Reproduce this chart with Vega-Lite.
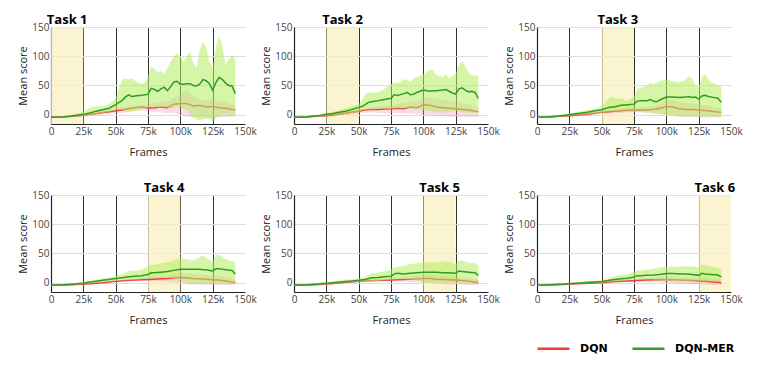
{
"$schema":"https://vega.github.io/schema/vega-lite/v6.json",
"padding":{"left":17,"top":14,"right":5,"bottom":5},
"data":{"values":[
{"t":1,"label":"Task 1","x0":0,"x1":25,"xm":12.5},
{"t":2,"label":"Task 2","x0":25,"x1":50,"xm":37.5},
{"t":3,"label":"Task 3","x0":50,"x1":75,"xm":62.5},
{"t":4,"label":"Task 4","x0":75,"x1":100,"xm":87.5},
{"t":5,"label":"Task 5","x0":100,"x1":125,"xm":112.5},
{"t":6,"label":"Task 6","x0":125,"x1":150,"xm":137.5},
{"t":1,"s":"DQN-MER","x":0,"m":-4.5,"lo":-5,"hi":-4},{"t":1,"s":"DQN-MER","x":5,"m":-4.2,"lo":-5,"hi":-3.5},{"t":1,"s":"DQN-MER","x":10,"m":-3.5,"lo":-4.5,"hi":-2.5},{"t":1,"s":"DQN-MER","x":15,"m":-2.5,"lo":-4,"hi":-1},{"t":1,"s":"DQN-MER","x":20,"m":-1,"lo":-3,"hi":2},{"t":1,"s":"DQN-MER","x":25,"m":0.5,"lo":-2,"hi":5},{"t":1,"s":"DQN-MER","x":30,"m":3,"lo":-1,"hi":12},{"t":1,"s":"DQN-MER","x":35,"m":6,"lo":1,"hi":15},{"t":1,"s":"DQN-MER","x":40,"m":8.5,"lo":3,"hi":14},{"t":1,"s":"DQN-MER","x":45,"m":11,"lo":5,"hi":18},{"t":1,"s":"DQN-MER","x":50,"m":17,"lo":8,"hi":28},{"t":1,"s":"DQN-MER","x":52.5,"m":21,"lo":10,"hi":45},{"t":1,"s":"DQN-MER","x":55,"m":24,"lo":9,"hi":60},{"t":1,"s":"DQN-MER","x":57.5,"m":30,"lo":6,"hi":62},{"t":1,"s":"DQN-MER","x":60,"m":34,"lo":5,"hi":60},{"t":1,"s":"DQN-MER","x":62.5,"m":31,"lo":5,"hi":62},{"t":1,"s":"DQN-MER","x":65,"m":32,"lo":6,"hi":58},{"t":1,"s":"DQN-MER","x":70,"m":33,"lo":9,"hi":52},{"t":1,"s":"DQN-MER","x":72.5,"m":34,"lo":10,"hi":55},{"t":1,"s":"DQN-MER","x":75,"m":35,"lo":12,"hi":65},{"t":1,"s":"DQN-MER","x":77.5,"m":45,"lo":14,"hi":82},{"t":1,"s":"DQN-MER","x":80,"m":43,"lo":14,"hi":78},{"t":1,"s":"DQN-MER","x":82.5,"m":40,"lo":12,"hi":72},{"t":1,"s":"DQN-MER","x":85,"m":44,"lo":12,"hi":75},{"t":1,"s":"DQN-MER","x":87.5,"m":47,"lo":13,"hi":70},{"t":1,"s":"DQN-MER","x":90,"m":41,"lo":12,"hi":80},{"t":1,"s":"DQN-MER","x":92.5,"m":48,"lo":11,"hi":90},{"t":1,"s":"DQN-MER","x":95,"m":56,"lo":12,"hi":100},{"t":1,"s":"DQN-MER","x":97.5,"m":57,"lo":13,"hi":105},{"t":1,"s":"DQN-MER","x":100,"m":52,"lo":14,"hi":100},{"t":1,"s":"DQN-MER","x":102.5,"m":52,"lo":10,"hi":90},{"t":1,"s":"DQN-MER","x":105,"m":53,"lo":8,"hi":100},{"t":1,"s":"DQN-MER","x":107.5,"m":53,"lo":2,"hi":108},{"t":1,"s":"DQN-MER","x":110,"m":50,"lo":-5,"hi":88},{"t":1,"s":"DQN-MER","x":112.5,"m":49,"lo":-8,"hi":80},{"t":1,"s":"DQN-MER","x":115,"m":52,"lo":-10,"hi":110},{"t":1,"s":"DQN-MER","x":117.5,"m":60,"lo":-8,"hi":125},{"t":1,"s":"DQN-MER","x":120,"m":58,"lo":-6,"hi":115},{"t":1,"s":"DQN-MER","x":122.5,"m":53,"lo":-8,"hi":90},{"t":1,"s":"DQN-MER","x":125,"m":42,"lo":-12,"hi":80},{"t":1,"s":"DQN-MER","x":127.5,"m":55,"lo":-6,"hi":115},{"t":1,"s":"DQN-MER","x":130,"m":64,"lo":-2,"hi":135},{"t":1,"s":"DQN-MER","x":132.5,"m":60,"lo":0,"hi":118},{"t":1,"s":"DQN-MER","x":135,"m":54,"lo":2,"hi":85},{"t":1,"s":"DQN-MER","x":137.5,"m":50,"lo":0,"hi":95},{"t":1,"s":"DQN-MER","x":140,"m":49,"lo":-2,"hi":102},{"t":1,"s":"DQN-MER","x":142.5,"m":36,"lo":-2,"hi":95},
{"t":2,"s":"DQN-MER","x":0,"m":-4.5,"lo":-5,"hi":-4},{"t":2,"s":"DQN-MER","x":5,"m":-4.2,"lo":-5,"hi":-3.5},{"t":2,"s":"DQN-MER","x":10,"m":-3.5,"lo":-4.5,"hi":-2.5},{"t":2,"s":"DQN-MER","x":15,"m":-2.5,"lo":-4,"hi":-1},{"t":2,"s":"DQN-MER","x":20,"m":-1.5,"lo":-3.5,"hi":0.5},{"t":2,"s":"DQN-MER","x":25,"m":0.5,"lo":-2,"hi":3},{"t":2,"s":"DQN-MER","x":30,"m":2,"lo":-1,"hi":5},{"t":2,"s":"DQN-MER","x":35,"m":4,"lo":0,"hi":8},{"t":2,"s":"DQN-MER","x":40,"m":6,"lo":1,"hi":11},{"t":2,"s":"DQN-MER","x":45,"m":9,"lo":3,"hi":14},{"t":2,"s":"DQN-MER","x":50,"m":12.5,"lo":5,"hi":18},{"t":2,"s":"DQN-MER","x":52.5,"m":14,"lo":7,"hi":25},{"t":2,"s":"DQN-MER","x":55,"m":17,"lo":8,"hi":35},{"t":2,"s":"DQN-MER","x":57.5,"m":21,"lo":9,"hi":38},{"t":2,"s":"DQN-MER","x":60,"m":22,"lo":9,"hi":38},{"t":2,"s":"DQN-MER","x":65,"m":24,"lo":10,"hi":38},{"t":2,"s":"DQN-MER","x":70,"m":26,"lo":10,"hi":44},{"t":2,"s":"DQN-MER","x":75,"m":28,"lo":10,"hi":52},{"t":2,"s":"DQN-MER","x":77.5,"m":34,"lo":11,"hi":55},{"t":2,"s":"DQN-MER","x":80,"m":33,"lo":11,"hi":54},{"t":2,"s":"DQN-MER","x":85,"m":36,"lo":11,"hi":60},{"t":2,"s":"DQN-MER","x":87.5,"m":38,"lo":11,"hi":60},{"t":2,"s":"DQN-MER","x":90,"m":34,"lo":10,"hi":56},{"t":2,"s":"DQN-MER","x":92.5,"m":35,"lo":9,"hi":62},{"t":2,"s":"DQN-MER","x":95,"m":38,"lo":9,"hi":64},{"t":2,"s":"DQN-MER","x":100,"m":42,"lo":8,"hi":69},{"t":2,"s":"DQN-MER","x":105,"m":40,"lo":6,"hi":77},{"t":2,"s":"DQN-MER","x":107.5,"m":41,"lo":5,"hi":76},{"t":2,"s":"DQN-MER","x":110,"m":41,"lo":4,"hi":68},{"t":2,"s":"DQN-MER","x":115,"m":42,"lo":4,"hi":64},{"t":2,"s":"DQN-MER","x":117.5,"m":43,"lo":4,"hi":70},{"t":2,"s":"DQN-MER","x":120,"m":40,"lo":4,"hi":62},{"t":2,"s":"DQN-MER","x":122.5,"m":37,"lo":5,"hi":66},{"t":2,"s":"DQN-MER","x":125,"m":35,"lo":7,"hi":70},{"t":2,"s":"DQN-MER","x":127.5,"m":44,"lo":5,"hi":85},{"t":2,"s":"DQN-MER","x":130,"m":46,"lo":4,"hi":92},{"t":2,"s":"DQN-MER","x":132.5,"m":42,"lo":3,"hi":82},{"t":2,"s":"DQN-MER","x":135,"m":39,"lo":4,"hi":72},{"t":2,"s":"DQN-MER","x":137.5,"m":40,"lo":3,"hi":66},{"t":2,"s":"DQN-MER","x":140,"m":38,"lo":3,"hi":68},{"t":2,"s":"DQN-MER","x":142.5,"m":28,"lo":3,"hi":66},
{"t":3,"s":"DQN-MER","x":0,"m":-4.5,"lo":-5,"hi":-4},{"t":3,"s":"DQN-MER","x":10,"m":-3.5,"lo":-4.5,"hi":-2.5},{"t":3,"s":"DQN-MER","x":20,"m":-1.5,"lo":-3.5,"hi":0.5},{"t":3,"s":"DQN-MER","x":25,"m":0,"lo":-2,"hi":2},{"t":3,"s":"DQN-MER","x":30,"m":1.5,"lo":-1,"hi":4},{"t":3,"s":"DQN-MER","x":35,"m":3,"lo":0,"hi":6},{"t":3,"s":"DQN-MER","x":40,"m":4.5,"lo":1,"hi":8},{"t":3,"s":"DQN-MER","x":45,"m":6.5,"lo":2,"hi":10},{"t":3,"s":"DQN-MER","x":50,"m":8.5,"lo":3,"hi":14},{"t":3,"s":"DQN-MER","x":52.5,"m":10,"lo":4,"hi":20},{"t":3,"s":"DQN-MER","x":55,"m":12,"lo":5,"hi":27},{"t":3,"s":"DQN-MER","x":57.5,"m":13,"lo":5,"hi":30},{"t":3,"s":"DQN-MER","x":60,"m":13,"lo":5,"hi":28},{"t":3,"s":"DQN-MER","x":65,"m":16,"lo":5,"hi":27},{"t":3,"s":"DQN-MER","x":70,"m":17,"lo":5,"hi":24},{"t":3,"s":"DQN-MER","x":75,"m":18,"lo":5,"hi":30},{"t":3,"s":"DQN-MER","x":77.5,"m":23,"lo":5,"hi":44},{"t":3,"s":"DQN-MER","x":80,"m":24,"lo":5,"hi":46},{"t":3,"s":"DQN-MER","x":85,"m":24,"lo":4,"hi":50},{"t":3,"s":"DQN-MER","x":87.5,"m":26,"lo":4,"hi":55},{"t":3,"s":"DQN-MER","x":90,"m":23,"lo":3,"hi":52},{"t":3,"s":"DQN-MER","x":92.5,"m":22,"lo":2,"hi":54},{"t":3,"s":"DQN-MER","x":95,"m":25,"lo":1,"hi":58},{"t":3,"s":"DQN-MER","x":100,"m":30,"lo":-1,"hi":60},{"t":3,"s":"DQN-MER","x":105,"m":30,"lo":-2,"hi":57},{"t":3,"s":"DQN-MER","x":110,"m":29.5,"lo":-3,"hi":55},{"t":3,"s":"DQN-MER","x":115,"m":30,"lo":-3,"hi":60},{"t":3,"s":"DQN-MER","x":117.5,"m":31,"lo":-3,"hi":66},{"t":3,"s":"DQN-MER","x":120,"m":29.5,"lo":-3,"hi":62},{"t":3,"s":"DQN-MER","x":122.5,"m":30,"lo":-3,"hi":50},{"t":3,"s":"DQN-MER","x":125,"m":26.5,"lo":-3,"hi":46},{"t":3,"s":"DQN-MER","x":127.5,"m":32,"lo":-3,"hi":64},{"t":3,"s":"DQN-MER","x":130,"m":33,"lo":-3,"hi":69},{"t":3,"s":"DQN-MER","x":132.5,"m":31,"lo":-3,"hi":60},{"t":3,"s":"DQN-MER","x":135,"m":30,"lo":-3,"hi":55},{"t":3,"s":"DQN-MER","x":140,"m":28,"lo":-3,"hi":50},{"t":3,"s":"DQN-MER","x":142.5,"m":21,"lo":-3,"hi":48},
{"t":4,"s":"DQN-MER","x":0,"m":-4.5,"lo":-5,"hi":-4},{"t":4,"s":"DQN-MER","x":10,"m":-3.5,"lo":-4.5,"hi":-2.5},{"t":4,"s":"DQN-MER","x":20,"m":-2,"lo":-3.5,"hi":0},{"t":4,"s":"DQN-MER","x":25,"m":-1,"lo":-3,"hi":1},{"t":4,"s":"DQN-MER","x":30,"m":1,"lo":-1,"hi":3},{"t":4,"s":"DQN-MER","x":35,"m":2.5,"lo":0,"hi":5},{"t":4,"s":"DQN-MER","x":40,"m":4,"lo":1,"hi":7},{"t":4,"s":"DQN-MER","x":45,"m":5.5,"lo":2,"hi":9},{"t":4,"s":"DQN-MER","x":50,"m":7,"lo":3,"hi":11},{"t":4,"s":"DQN-MER","x":55,"m":8.5,"lo":4,"hi":15},{"t":4,"s":"DQN-MER","x":60,"m":10,"lo":4,"hi":20},{"t":4,"s":"DQN-MER","x":65,"m":11,"lo":5,"hi":21},{"t":4,"s":"DQN-MER","x":70,"m":12,"lo":6,"hi":22},{"t":4,"s":"DQN-MER","x":75,"m":14,"lo":7,"hi":28},{"t":4,"s":"DQN-MER","x":77.5,"m":17,"lo":8,"hi":30},{"t":4,"s":"DQN-MER","x":80,"m":17,"lo":8,"hi":31},{"t":4,"s":"DQN-MER","x":85,"m":18,"lo":8,"hi":33},{"t":4,"s":"DQN-MER","x":90,"m":19,"lo":8,"hi":35},{"t":4,"s":"DQN-MER","x":95,"m":21,"lo":7,"hi":38},{"t":4,"s":"DQN-MER","x":100,"m":23,"lo":5,"hi":42},{"t":4,"s":"DQN-MER","x":105,"m":23,"lo":0,"hi":40},{"t":4,"s":"DQN-MER","x":110,"m":23,"lo":-2,"hi":38},{"t":4,"s":"DQN-MER","x":115,"m":23,"lo":-2,"hi":44},{"t":4,"s":"DQN-MER","x":117.5,"m":22,"lo":-2,"hi":46},{"t":4,"s":"DQN-MER","x":120,"m":22,"lo":-2,"hi":42},{"t":4,"s":"DQN-MER","x":125,"m":20,"lo":-2,"hi":36},{"t":4,"s":"DQN-MER","x":127.5,"m":24,"lo":-2,"hi":46},{"t":4,"s":"DQN-MER","x":130,"m":24,"lo":-2,"hi":48},{"t":4,"s":"DQN-MER","x":135,"m":22,"lo":-2,"hi":40},{"t":4,"s":"DQN-MER","x":140,"m":21,"lo":-2,"hi":36},{"t":4,"s":"DQN-MER","x":142.5,"m":15,"lo":-2,"hi":36},
{"t":5,"s":"DQN-MER","x":0,"m":-4.5,"lo":-5,"hi":-4},{"t":5,"s":"DQN-MER","x":10,"m":-3.5,"lo":-4.5,"hi":-2.5},{"t":5,"s":"DQN-MER","x":20,"m":-2,"lo":-3.5,"hi":-0.5},{"t":5,"s":"DQN-MER","x":25,"m":-1,"lo":-3,"hi":0.5},{"t":5,"s":"DQN-MER","x":30,"m":0,"lo":-2,"hi":2},{"t":5,"s":"DQN-MER","x":35,"m":1,"lo":-1,"hi":3.5},{"t":5,"s":"DQN-MER","x":40,"m":2,"lo":0,"hi":5},{"t":5,"s":"DQN-MER","x":45,"m":3,"lo":1,"hi":6},{"t":5,"s":"DQN-MER","x":50,"m":4,"lo":1.5,"hi":7},{"t":5,"s":"DQN-MER","x":55,"m":5.5,"lo":2,"hi":10},{"t":5,"s":"DQN-MER","x":60,"m":8.5,"lo":3,"hi":16},{"t":5,"s":"DQN-MER","x":65,"m":9,"lo":3,"hi":17},{"t":5,"s":"DQN-MER","x":70,"m":10,"lo":4,"hi":20},{"t":5,"s":"DQN-MER","x":75,"m":11,"lo":5,"hi":23},{"t":5,"s":"DQN-MER","x":77.5,"m":15,"lo":6,"hi":26},{"t":5,"s":"DQN-MER","x":80,"m":16,"lo":6,"hi":27},{"t":5,"s":"DQN-MER","x":85,"m":15,"lo":6,"hi":29},{"t":5,"s":"DQN-MER","x":90,"m":16,"lo":5,"hi":32},{"t":5,"s":"DQN-MER","x":95,"m":17,"lo":4,"hi":33},{"t":5,"s":"DQN-MER","x":100,"m":18,"lo":1,"hi":35},{"t":5,"s":"DQN-MER","x":105,"m":18,"lo":0,"hi":35},{"t":5,"s":"DQN-MER","x":110,"m":18,"lo":0,"hi":34},{"t":5,"s":"DQN-MER","x":115,"m":17,"lo":0,"hi":36},{"t":5,"s":"DQN-MER","x":120,"m":17,"lo":0,"hi":36},{"t":5,"s":"DQN-MER","x":125,"m":16,"lo":0,"hi":32},{"t":5,"s":"DQN-MER","x":127.5,"m":20,"lo":0,"hi":38},{"t":5,"s":"DQN-MER","x":130,"m":19,"lo":0,"hi":38},{"t":5,"s":"DQN-MER","x":135,"m":18,"lo":0,"hi":34},{"t":5,"s":"DQN-MER","x":140,"m":17,"lo":0,"hi":33},{"t":5,"s":"DQN-MER","x":142.5,"m":12.5,"lo":0,"hi":30},
{"t":6,"s":"DQN-MER","x":0,"m":-4.5,"lo":-5,"hi":-4},{"t":6,"s":"DQN-MER","x":10,"m":-3.5,"lo":-4.5,"hi":-2.5},{"t":6,"s":"DQN-MER","x":20,"m":-2.5,"lo":-4,"hi":-1},{"t":6,"s":"DQN-MER","x":30,"m":-1,"lo":-2.5,"hi":0.5},{"t":6,"s":"DQN-MER","x":40,"m":0.5,"lo":-1,"hi":2},{"t":6,"s":"DQN-MER","x":50,"m":2,"lo":0,"hi":4},{"t":6,"s":"DQN-MER","x":55,"m":3.5,"lo":1,"hi":7},{"t":6,"s":"DQN-MER","x":60,"m":5.5,"lo":2,"hi":11},{"t":6,"s":"DQN-MER","x":65,"m":6.5,"lo":3,"hi":13},{"t":6,"s":"DQN-MER","x":70,"m":7.5,"lo":4,"hi":15},{"t":6,"s":"DQN-MER","x":75,"m":9.5,"lo":5,"hi":19},{"t":6,"s":"DQN-MER","x":77.5,"m":12,"lo":6,"hi":21},{"t":6,"s":"DQN-MER","x":80,"m":12,"lo":6,"hi":21},{"t":6,"s":"DQN-MER","x":85,"m":12.5,"lo":6,"hi":22},{"t":6,"s":"DQN-MER","x":90,"m":13,"lo":5,"hi":24},{"t":6,"s":"DQN-MER","x":95,"m":14,"lo":4,"hi":26},{"t":6,"s":"DQN-MER","x":100,"m":15.5,"lo":2,"hi":27},{"t":6,"s":"DQN-MER","x":105,"m":15.5,"lo":2,"hi":28},{"t":6,"s":"DQN-MER","x":110,"m":15,"lo":2,"hi":27},{"t":6,"s":"DQN-MER","x":115,"m":15,"lo":2,"hi":28},{"t":6,"s":"DQN-MER","x":120,"m":14,"lo":2,"hi":28},{"t":6,"s":"DQN-MER","x":125,"m":12.5,"lo":2,"hi":26},{"t":6,"s":"DQN-MER","x":127.5,"m":16,"lo":2,"hi":31},{"t":6,"s":"DQN-MER","x":130,"m":15,"lo":2,"hi":30},{"t":6,"s":"DQN-MER","x":135,"m":14,"lo":2,"hi":27},{"t":6,"s":"DQN-MER","x":140,"m":13,"lo":2,"hi":25},{"t":6,"s":"DQN-MER","x":142.5,"m":10,"lo":2,"hi":24},
{"t":1,"s":"DQN","x":0,"m":-4.5,"lo":-5,"hi":-4},{"t":1,"s":"DQN","x":5,"m":-4.3,"lo":-5,"hi":-3.5},{"t":1,"s":"DQN","x":10,"m":-3.8,"lo":-5,"hi":-3},{"t":1,"s":"DQN","x":15,"m":-3,"lo":-4.5,"hi":-2},{"t":1,"s":"DQN","x":20,"m":-2,"lo":-4,"hi":0},{"t":1,"s":"DQN","x":25,"m":-1,"lo":-3,"hi":1},{"t":1,"s":"DQN","x":30,"m":0.5,"lo":-2,"hi":3},{"t":1,"s":"DQN","x":35,"m":2,"lo":-1,"hi":5},{"t":1,"s":"DQN","x":40,"m":3.5,"lo":0,"hi":7},{"t":1,"s":"DQN","x":45,"m":5,"lo":1,"hi":9},{"t":1,"s":"DQN","x":50,"m":6.5,"lo":2,"hi":11},{"t":1,"s":"DQN","x":55,"m":8,"lo":3,"hi":13},{"t":1,"s":"DQN","x":60,"m":10,"lo":5,"hi":15},{"t":1,"s":"DQN","x":65,"m":12,"lo":7,"hi":16},{"t":1,"s":"DQN","x":70,"m":13,"lo":7,"hi":17},{"t":1,"s":"DQN","x":75,"m":11.5,"lo":6,"hi":18},{"t":1,"s":"DQN","x":80,"m":12,"lo":5,"hi":20},{"t":1,"s":"DQN","x":85,"m":13,"lo":4,"hi":22},{"t":1,"s":"DQN","x":90,"m":12,"lo":3,"hi":22},{"t":1,"s":"DQN","x":95,"m":18,"lo":3,"hi":28},{"t":1,"s":"DQN","x":100,"m":19,"lo":0,"hi":35},{"t":1,"s":"DQN","x":105,"m":19,"lo":-3,"hi":42},{"t":1,"s":"DQN","x":110,"m":15,"lo":-5,"hi":32},{"t":1,"s":"DQN","x":115,"m":16,"lo":-4,"hi":26},{"t":1,"s":"DQN","x":120,"m":13,"lo":-5,"hi":24},{"t":1,"s":"DQN","x":125,"m":14,"lo":-6,"hi":28},{"t":1,"s":"DQN","x":130,"m":12,"lo":-4,"hi":22},{"t":1,"s":"DQN","x":135,"m":11,"lo":-4,"hi":23},{"t":1,"s":"DQN","x":140,"m":9,"lo":-3,"hi":18},{"t":1,"s":"DQN","x":142.5,"m":8.5,"lo":-3,"hi":16},
{"t":2,"s":"DQN","x":0,"m":-4.5,"lo":-5,"hi":-4},{"t":2,"s":"DQN","x":10,"m":-4,"lo":-5,"hi":-3},{"t":2,"s":"DQN","x":20,"m":-2.5,"lo":-4,"hi":-1},{"t":2,"s":"DQN","x":25,"m":-2,"lo":-3.5,"hi":0},{"t":2,"s":"DQN","x":30,"m":-0.5,"lo":-2,"hi":1.5},{"t":2,"s":"DQN","x":35,"m":1,"lo":-1,"hi":3},{"t":2,"s":"DQN","x":40,"m":2.5,"lo":0,"hi":5},{"t":2,"s":"DQN","x":45,"m":4.5,"lo":1,"hi":8},{"t":2,"s":"DQN","x":50,"m":6,"lo":2,"hi":10},{"t":2,"s":"DQN","x":55,"m":8,"lo":3,"hi":12},{"t":2,"s":"DQN","x":60,"m":9,"lo":4,"hi":13},{"t":2,"s":"DQN","x":65,"m":9,"lo":3,"hi":14},{"t":2,"s":"DQN","x":70,"m":9.5,"lo":3,"hi":15},{"t":2,"s":"DQN","x":75,"m":10,"lo":3,"hi":16},{"t":2,"s":"DQN","x":80,"m":11,"lo":3,"hi":18},{"t":2,"s":"DQN","x":85,"m":10,"lo":2,"hi":20},{"t":2,"s":"DQN","x":90,"m":13,"lo":2,"hi":22},{"t":2,"s":"DQN","x":95,"m":12,"lo":1,"hi":24},{"t":2,"s":"DQN","x":100,"m":17,"lo":0,"hi":28},{"t":2,"s":"DQN","x":105,"m":16,"lo":-1,"hi":29},{"t":2,"s":"DQN","x":110,"m":13,"lo":-2,"hi":28},{"t":2,"s":"DQN","x":115,"m":12,"lo":-2,"hi":26},{"t":2,"s":"DQN","x":120,"m":11,"lo":-3,"hi":24},{"t":2,"s":"DQN","x":125,"m":10,"lo":-3,"hi":22},{"t":2,"s":"DQN","x":130,"m":9,"lo":-3,"hi":20},{"t":2,"s":"DQN","x":135,"m":8,"lo":-4,"hi":18},{"t":2,"s":"DQN","x":140,"m":6,"lo":-4,"hi":14},{"t":2,"s":"DQN","x":142.5,"m":5,"lo":-4,"hi":12},
{"t":3,"s":"DQN","x":0,"m":-4.5,"lo":-5,"hi":-4},{"t":3,"s":"DQN","x":10,"m":-4,"lo":-5,"hi":-3},{"t":3,"s":"DQN","x":20,"m":-2.5,"lo":-4,"hi":-1},{"t":3,"s":"DQN","x":25,"m":-2,"lo":-3.5,"hi":-0.5},{"t":3,"s":"DQN","x":30,"m":-1,"lo":-2.5,"hi":0.5},{"t":3,"s":"DQN","x":40,"m":1,"lo":-1,"hi":3},{"t":3,"s":"DQN","x":50,"m":4,"lo":1,"hi":6},{"t":3,"s":"DQN","x":60,"m":6,"lo":3,"hi":9},{"t":3,"s":"DQN","x":70,"m":7.5,"lo":4,"hi":11},{"t":3,"s":"DQN","x":75,"m":8,"lo":4,"hi":12},{"t":3,"s":"DQN","x":80,"m":8.5,"lo":4,"hi":13},{"t":3,"s":"DQN","x":85,"m":8,"lo":3,"hi":13},{"t":3,"s":"DQN","x":90,"m":9,"lo":2,"hi":15},{"t":3,"s":"DQN","x":95,"m":11,"lo":1,"hi":18},{"t":3,"s":"DQN","x":100,"m":14,"lo":0,"hi":24},{"t":3,"s":"DQN","x":105,"m":13,"lo":-1,"hi":25},{"t":3,"s":"DQN","x":110,"m":10,"lo":-3,"hi":22},{"t":3,"s":"DQN","x":115,"m":9,"lo":-4,"hi":20},{"t":3,"s":"DQN","x":120,"m":9,"lo":-4,"hi":19},{"t":3,"s":"DQN","x":125,"m":8,"lo":-5,"hi":18},{"t":3,"s":"DQN","x":130,"m":7,"lo":-5,"hi":16},{"t":3,"s":"DQN","x":135,"m":6,"lo":-5,"hi":14},{"t":3,"s":"DQN","x":140,"m":4.5,"lo":-5,"hi":12},{"t":3,"s":"DQN","x":142.5,"m":4,"lo":-5,"hi":11},
{"t":4,"s":"DQN","x":0,"m":-4.5,"lo":-5,"hi":-4},{"t":4,"s":"DQN","x":10,"m":-4,"lo":-5,"hi":-3},{"t":4,"s":"DQN","x":20,"m":-3,"lo":-4.5,"hi":-1.5},{"t":4,"s":"DQN","x":30,"m":-2,"lo":-3.5,"hi":-0.5},{"t":4,"s":"DQN","x":40,"m":0,"lo":-1.5,"hi":1.5},{"t":4,"s":"DQN","x":50,"m":2.5,"lo":1,"hi":4},{"t":4,"s":"DQN","x":60,"m":4,"lo":2,"hi":6},{"t":4,"s":"DQN","x":70,"m":5,"lo":3,"hi":8},{"t":4,"s":"DQN","x":75,"m":5.5,"lo":3,"hi":9},{"t":4,"s":"DQN","x":80,"m":6,"lo":3,"hi":10},{"t":4,"s":"DQN","x":85,"m":6.5,"lo":2,"hi":11},{"t":4,"s":"DQN","x":90,"m":7,"lo":1,"hi":12},{"t":4,"s":"DQN","x":95,"m":8,"lo":0,"hi":14},{"t":4,"s":"DQN","x":100,"m":9,"lo":-1,"hi":16},{"t":4,"s":"DQN","x":105,"m":8.5,"lo":-2,"hi":16},{"t":4,"s":"DQN","x":110,"m":7,"lo":-3,"hi":15},{"t":4,"s":"DQN","x":115,"m":6.5,"lo":-3,"hi":14},{"t":4,"s":"DQN","x":120,"m":6,"lo":-4,"hi":13},{"t":4,"s":"DQN","x":125,"m":5,"lo":-4,"hi":12},{"t":4,"s":"DQN","x":130,"m":4.5,"lo":-4,"hi":11},{"t":4,"s":"DQN","x":135,"m":3,"lo":-4,"hi":9},{"t":4,"s":"DQN","x":140,"m":1,"lo":-4,"hi":7},{"t":4,"s":"DQN","x":142.5,"m":0.5,"lo":-4,"hi":6},
{"t":5,"s":"DQN","x":0,"m":-4.5,"lo":-5,"hi":-4},{"t":5,"s":"DQN","x":10,"m":-4,"lo":-5,"hi":-3},{"t":5,"s":"DQN","x":20,"m":-3,"lo":-4.5,"hi":-1.5},{"t":5,"s":"DQN","x":30,"m":-1.5,"lo":-3,"hi":0},{"t":5,"s":"DQN","x":40,"m":0.5,"lo":-1,"hi":2},{"t":5,"s":"DQN","x":50,"m":2.5,"lo":1,"hi":4},{"t":5,"s":"DQN","x":60,"m":3.5,"lo":2,"hi":5.5},{"t":5,"s":"DQN","x":70,"m":4,"lo":2,"hi":7},{"t":5,"s":"DQN","x":75,"m":4.5,"lo":2,"hi":8},{"t":5,"s":"DQN","x":80,"m":5,"lo":2,"hi":9},{"t":5,"s":"DQN","x":90,"m":6,"lo":1,"hi":11},{"t":5,"s":"DQN","x":100,"m":7,"lo":0,"hi":14},{"t":5,"s":"DQN","x":105,"m":7,"lo":-1,"hi":14},{"t":5,"s":"DQN","x":110,"m":6,"lo":-2,"hi":13},{"t":5,"s":"DQN","x":115,"m":5.5,"lo":-2,"hi":12},{"t":5,"s":"DQN","x":120,"m":5,"lo":-3,"hi":11},{"t":5,"s":"DQN","x":125,"m":4.5,"lo":-3,"hi":10},{"t":5,"s":"DQN","x":130,"m":3.5,"lo":-3,"hi":9},{"t":5,"s":"DQN","x":135,"m":2.5,"lo":-4,"hi":8},{"t":5,"s":"DQN","x":140,"m":1,"lo":-4,"hi":6},{"t":5,"s":"DQN","x":142.5,"m":0.5,"lo":-4,"hi":5},
{"t":6,"s":"DQN","x":0,"m":-4.5,"lo":-5,"hi":-4},{"t":6,"s":"DQN","x":10,"m":-4,"lo":-5,"hi":-3},{"t":6,"s":"DQN","x":20,"m":-3,"lo":-4.5,"hi":-2},{"t":6,"s":"DQN","x":30,"m":-2,"lo":-3.5,"hi":-0.5},{"t":6,"s":"DQN","x":40,"m":-1,"lo":-2.5,"hi":0.5},{"t":6,"s":"DQN","x":50,"m":0,"lo":-1.5,"hi":2},{"t":6,"s":"DQN","x":60,"m":2,"lo":0,"hi":4},{"t":6,"s":"DQN","x":70,"m":3,"lo":1,"hi":6},{"t":6,"s":"DQN","x":80,"m":4,"lo":1,"hi":7},{"t":6,"s":"DQN","x":90,"m":5,"lo":1,"hi":9},{"t":6,"s":"DQN","x":100,"m":5.5,"lo":0,"hi":11},{"t":6,"s":"DQN","x":105,"m":5,"lo":-1,"hi":11},{"t":6,"s":"DQN","x":110,"m":4.5,"lo":-2,"hi":10},{"t":6,"s":"DQN","x":115,"m":4,"lo":-2,"hi":10},{"t":6,"s":"DQN","x":120,"m":3.5,"lo":-3,"hi":9},{"t":6,"s":"DQN","x":125,"m":3,"lo":-3,"hi":9},{"t":6,"s":"DQN","x":130,"m":2.5,"lo":-3,"hi":8},{"t":6,"s":"DQN","x":135,"m":1.5,"lo":-4,"hi":7},{"t":6,"s":"DQN","x":140,"m":0.5,"lo":-4,"hi":6},{"t":6,"s":"DQN","x":142.5,"m":0,"lo":-4,"hi":5}
]},
"facet":{"field":"t","type":"ordinal","header":{"title":null,"labels":false,"labelExpr":"''","labelFontSize":0,"labelPadding":0}},
"columns":3,
"spacing":{"row":71,"column":49},
"bounds":"flush",
"resolve":{"axis":{"x":"independent","y":"independent"}},
"spec":{
"width":194,"height":97,
"layer":[
{"transform":[{"filter":"isValid(datum.label)"}],
 "mark":{"type":"rect","color":"#faf0c0","opacity":0.75},
 "encoding":{
  "x":{"field":"x0","type":"quantitative","scale":{"domain":[0,150],"nice":false,"zero":false},
   "axis":{"values":[0,25,50,75,100,125,150],"tickCount":8,"labelExpr":"datum.value == 0 ? '0' : datum.value + 'k'","labelFlush":false,"labelOverlap":false,"title":"Frames","grid":true,"gridColor":"#333333","gridWidth":1,"gridOpacity":{"condition":{"test":"datum.value <= 0 || datum.value >= 150","value":0},"value":1},"labelPadding":2,"titlePadding":10}},
  "x2":{"field":"x1"}}},
{"transform":[{"filter":{"field":"s","equal":"DQN"}}],
 "mark":{"type":"area","color":"#e98fab","opacity":0.3},
 "encoding":{
  "x":{"field":"x","type":"quantitative"},
  "y":{"field":"lo","type":"quantitative","scale":{"domain":[-16,150],"nice":false,"zero":false},
   "axis":{"values":[0,50,100,150],"tickCount":5,"labelOverlap":false,"labelFlush":false,"title":"Mean score","labelPadding":2,"titlePadding":3}},
  "y2":{"field":"hi"}}},
{"transform":[{"filter":{"field":"s","equal":"DQN"}}],
 "mark":{"type":"line","strokeWidth":1.5},
 "encoding":{
  "x":{"field":"x","type":"quantitative"},
  "y":{"field":"m","type":"quantitative"},
  "color":{"field":"s","type":"nominal","scale":{"domain":["DQN","DQN-MER"],"range":["#f23d3d","#2f9c24"]},
   "legend":{"title":null,"orient":"none","legendX":485,"legendY":304,"direction":"horizontal","symbolType":"stroke","symbolSize":1024,"symbolStrokeWidth":2.5,"labelFont":"DejaVu Sans","labelFontSize":11,"labelFontWeight":"bold","labelColor":"#000","labelOffset":9,"columnPadding":19}}}},
{"transform":[{"filter":{"field":"s","equal":"DQN-MER"}}],
 "mark":{"type":"area","color":"#b4ef5e","opacity":0.55},
 "encoding":{
  "x":{"field":"x","type":"quantitative"},
  "y":{"field":"lo","type":"quantitative"},
  "y2":{"field":"hi"}}},
{"transform":[{"filter":{"field":"s","equal":"DQN-MER"}}],
 "mark":{"type":"line","strokeWidth":1.5},
 "encoding":{
  "x":{"field":"x","type":"quantitative"},
  "y":{"field":"m","type":"quantitative"},
  "color":{"field":"s","type":"nominal"}}},
{"transform":[{"filter":"isValid(datum.label)"}],
 "mark":{"type":"text","font":"Open Sans","fontWeight":"bold","fontSize":13,"baseline":"alphabetic","align":"center","dy":-3,"color":"#000"},
 "encoding":{
  "x":{"field":"xm","type":"quantitative"},
  "y":{"datum":150},
  "text":{"field":"label"}}}
]},
"config":{
 "view":{"stroke":null},
 "header":{"labels":false,"title":null},
 "headerFacet":{"labels":false,"title":null},
 "axis":{"labelFont":"Open Sans","titleFont":"Open Sans","labelFontSize":10,"titleFontSize":11,"titleFontWeight":"normal","labelColor":"#444444","titleColor":"#222222","domainColor":"#222222","domainWidth":1.2,"ticks":false}
}
}
